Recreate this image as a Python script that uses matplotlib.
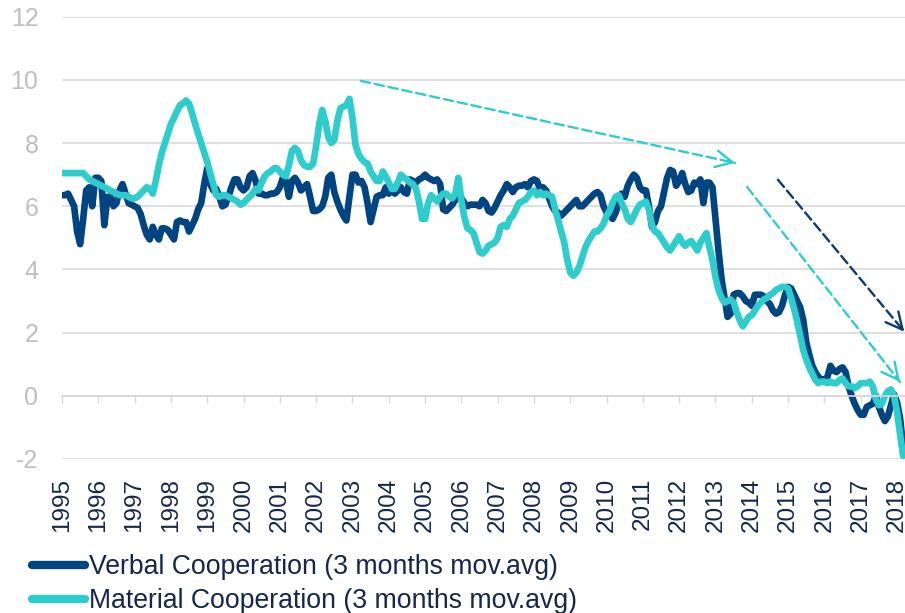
import numpy as np
import matplotlib.pyplot as plt
from matplotlib.lines import Line2D

plt.rcParams['font.family'] = ['Liberation Sans', 'DejaVu Sans']
plt.rcParams['axes.unicode_minus'] = False

# monthly values, Jan 1995 - Mar 2018
verbal = [
    6.35, 6.35, 6.4, 6.2, 6.0, 5.2, 4.8, 5.6, 6.5, 6.6, 6.0, 6.9,          # 1995
    6.9, 6.8, 5.4, 6.3, 6.3, 6.0, 6.1, 6.5, 6.7, 6.4, 6.1, 6.05,           # 1996
    6.0, 5.95, 5.75, 5.4, 5.1, 4.95, 5.35, 5.1, 4.95, 5.3, 5.3, 5.25,      # 1997
    5.1, 4.95, 5.5, 5.55, 5.5, 5.5, 5.2, 5.4, 5.6, 5.9, 6.1, 6.7,          # 1998
    7.2, 6.7, 6.5, 6.55, 6.3, 6.0, 6.05, 6.3, 6.6, 6.85, 6.85, 6.6,        # 1999
    6.5, 6.6, 6.95, 7.05, 6.8, 6.4, 6.4, 6.35, 6.35, 6.4, 6.4, 6.45,       # 2000
    6.6, 6.9, 6.8, 6.3, 6.8, 6.9, 6.75, 6.5, 6.6, 6.7, 6.3, 5.85,          # 2001
    5.85, 5.9, 6.0, 6.3, 6.9, 7.0, 6.45, 6.15, 5.9, 5.7, 5.55, 6.3,        # 2002
    7.0, 7.0, 6.75, 6.8, 6.6, 6.1, 5.5, 5.9, 6.3, 6.35, 6.35, 6.6,         # 2003
    6.4, 6.5, 6.4, 6.5, 6.6, 6.45, 6.4, 6.85, 6.8, 6.75, 6.85, 6.9,        # 2004
    7.0, 6.9, 6.85, 6.8, 6.85, 6.7, 5.9, 5.85, 5.95, 6.05, 6.2, 6.3,       # 2005
    6.25, 6.1, 6.0, 6.05, 6.05, 6.05, 6.0, 6.2, 6.1, 5.85, 5.8, 5.95,      # 2006
    6.15, 6.35, 6.5, 6.7, 6.6, 6.45, 6.6, 6.65, 6.65, 6.7, 6.6, 6.8,       # 2007
    6.85, 6.8, 6.55, 6.6, 6.5, 6.25, 6.0, 5.85, 5.8, 5.7, 5.8, 5.9,        # 2008
    6.0, 6.1, 6.2, 6.0, 6.0, 6.1, 6.2, 6.3, 6.4, 6.45, 6.35, 6.0,          # 2009
    5.8, 5.7, 5.6, 5.8, 6.1, 6.4, 6.3, 6.65, 6.85, 7.0, 6.9, 6.6,          # 2010
    6.5, 6.5, 6.0, 5.35, 5.5, 5.85, 6.0, 6.45, 6.9, 7.15, 7.1, 6.65,       # 2011
    6.8, 7.05, 6.7, 6.45, 6.5, 6.75, 6.7, 6.85, 6.1, 6.75, 6.75, 6.6,      # 2012
    5.6, 4.6, 3.7, 3.1, 2.5, 2.6, 3.2, 3.25, 3.25, 3.15, 3.0, 2.95,        # 2013
    2.85, 3.2, 3.2, 3.2, 3.15, 3.0, 2.9, 2.7, 2.6, 2.65, 2.85, 3.2,        # 2014
    3.45, 3.4, 3.2, 3.0, 2.8, 2.4, 1.7, 1.3, 0.95, 0.75, 0.6, 0.5,         # 2015
    0.5, 0.6, 0.95, 0.8, 0.75, 0.85, 0.9, 0.75, 0.3, 0.0, -0.25, -0.45,    # 2016
    -0.6, -0.6, -0.35, -0.3, -0.25, 0.0, -0.35, -0.6, -0.8, -0.65, -0.3, 0.05,  # 2017
    -0.2, -0.7, -1.6,                                                      # 2018
]
material = [
    7.05, 7.05, 7.05, 7.05, 7.05, 7.05, 7.05, 7.05, 6.95, 6.85, 6.8, 6.75,  # 1995
    6.7, 6.65, 6.6, 6.55, 6.5, 6.45, 6.4, 6.35, 6.35, 6.35, 6.3, 6.25,     # 1996
    6.25, 6.3, 6.4, 6.5, 6.6, 6.55, 6.4, 6.8, 7.3, 7.7, 8.0, 8.3,          # 1997
    8.6, 8.8, 9.0, 9.2, 9.25, 9.35, 9.25, 8.95, 8.6, 8.3, 8.0, 7.7,        # 1998
    7.4, 7.05, 6.7, 6.35, 6.3, 6.35, 6.35, 6.3, 6.25, 6.2, 6.15, 6.05,     # 1999
    6.1, 6.2, 6.3, 6.4, 6.55, 6.5, 6.75, 6.95, 7.05, 7.1, 7.2, 7.2,        # 2000
    7.1, 7.0, 6.95, 7.3, 7.75, 7.85, 7.75, 7.45, 7.3, 7.25, 7.25, 7.35,    # 2001
    7.9, 8.6, 9.05, 8.7, 8.2, 8.0, 8.1, 8.7, 9.1, 9.15, 9.2, 9.4,          # 2002
    8.8, 7.95, 7.65, 7.5, 7.4, 7.35, 7.1, 6.95, 6.8, 6.8, 7.1, 6.95,       # 2003
    6.75, 6.55, 6.55, 6.75, 7.0, 6.9, 6.85, 6.75, 6.7, 6.55, 6.15, 5.6,    # 2004
    5.6, 6.1, 6.35, 6.25, 6.15, 6.3, 6.4, 6.4, 6.3, 6.25, 6.4, 6.9,        # 2005
    6.2, 5.65, 5.3, 5.25, 5.15, 4.85, 4.55, 4.5, 4.6, 4.75, 4.8, 4.85,     # 2006
    5.0, 5.35, 5.4, 5.35, 5.6, 5.7, 5.9, 6.1, 6.15, 6.2, 6.3, 6.45,        # 2007
    6.5, 6.35, 6.45, 6.35, 6.4, 6.35, 6.3, 5.9, 5.55, 5.2, 4.85, 4.3,      # 2008
    3.9, 3.8, 3.9, 4.1, 4.4, 4.7, 4.9, 5.05, 5.2, 5.2, 5.3, 5.45,          # 2009
    5.7, 5.85, 6.1, 6.3, 6.35, 6.1, 5.9, 5.6, 5.5, 5.7, 5.9, 6.05,         # 2010
    6.1, 6.15, 5.9, 5.4, 5.2, 5.15, 5.0, 4.85, 4.7, 4.6, 4.75, 4.9,        # 2011
    5.05, 4.85, 4.75, 4.85, 4.9, 4.75, 4.6, 4.85, 5.0, 5.15, 4.7, 4.3,     # 2012
    3.75, 3.35, 3.1, 2.95, 3.0, 3.05, 2.95, 2.65, 2.4, 2.2, 2.35, 2.5,     # 2013
    2.55, 2.7, 2.85, 2.95, 3.05, 3.1, 3.2, 3.25, 3.35, 3.4, 3.45, 3.45,    # 2014
    3.4, 3.1, 2.75, 2.35, 1.9, 1.45, 1.15, 0.9, 0.7, 0.5, 0.4, 0.45,       # 2015
    0.45, 0.4, 0.45, 0.4, 0.4, 0.5, 0.55, 0.4, 0.3, 0.3, 0.25, 0.3,        # 2016
    0.4, 0.4, 0.4, 0.45, 0.3, -0.1, -0.3, -0.25, 0.0, 0.15, 0.2, 0.0,      # 2017
    -0.5, -1.2, -1.9,                                                      # 2018
]
years = list(range(1995, 2019))
labels = ['Verbal Cooperation (3 months mov.avg)',
          'Material Cooperation (3 months mov.avg)']

# trend arrows: (start year, start value), (end year, end value), colour
trend_arrows = [
    ((2003.23, 9.97), (2013.54, 7.37), '#2dcccd'),
    ((2013.87, 6.61), (2018.08, 0.44), '#2dcccd'),
    ((2014.72, 6.84), (2018.20, 2.03), '#0d3b70'),
]

navy = '#004481'
aqua = '#2dcccd'
grid_c = '#d9d9d9'
text_c = '#14284b'

t = 1995 + np.arange(len(verbal)) / 12.0

fig = plt.figure(figsize=(9.05, 6.13), dpi=100)
ax = fig.add_axes([62 / 905, 1 - 459 / 613, 843 / 905, (459 - 16.7) / 613])

ax.plot(t, verbal, color=navy, lw=4.8, solid_joinstyle='round', solid_capstyle='round')
ax.plot(t, material, color=aqua, lw=4.8, solid_joinstyle='round', solid_capstyle='round')

for (x0, y0), (x1, y1), c in trend_arrows:
    ax.annotate('', xy=(x1, y1), xytext=(x0, y0),
                arrowprops=dict(arrowstyle='-', color=c, lw=1.7,
                                linestyle=(0, (4, 2)), shrinkA=0, shrinkB=0),
                annotation_clip=False)
    ax.annotate('', xy=(x1, y1),
                xytext=(x1 - (x1 - x0) * 0.02, y1 - (y1 - y0) * 0.02),
                arrowprops=dict(arrowstyle='->,head_length=0.8,head_width=0.4',
                                color=c, lw=1.7, shrinkA=0, shrinkB=0,
                                mutation_scale=15),
                annotation_clip=False)

ax.set_xlim(1995, 2018.22)
ax.set_ylim(-2, 12)
ax.set_yticks(range(-2, 13, 2))
ax.yaxis.grid(True, color=grid_c, lw=1.2)
ax.set_axisbelow(True)
ax.tick_params(axis='y', length=0, pad=17, labelsize=18, labelcolor='#bfbfbf')

for s in ['left', 'right', 'top']:
    ax.spines[s].set_visible(False)
ax.spines['bottom'].set_position(('data', 0))
ax.spines['bottom'].set_color(grid_c)
ax.spines['bottom'].set_linewidth(1.2)
ax.set_xticks(years)
ax.tick_params(axis='x', length=5, width=1, color=grid_c, labelbottom=False)

sec = ax.secondary_xaxis(0)
sec.set_xticks(years)
sec.set_xticklabels([str(y) for y in years], rotation=90, fontsize=17.5, color=text_c)
sec.tick_params(length=0, pad=13.5)
sec.spines['bottom'].set_visible(False)

handles = [Line2D([], [], color=navy, lw=6, solid_capstyle='round'),
           Line2D([], [], color=aqua, lw=6, solid_capstyle='round')]
fig.legend(handles, labels, loc='upper left', bbox_to_anchor=(32 / 905, 1 - 554 / 613),
           frameon=False, fontsize=19.2, labelcolor=text_c, borderpad=0,
           borderaxespad=0, handlelength=2.0, handletextpad=0.15, labelspacing=0.3)

fig.savefig('out.png', dpi=100)
